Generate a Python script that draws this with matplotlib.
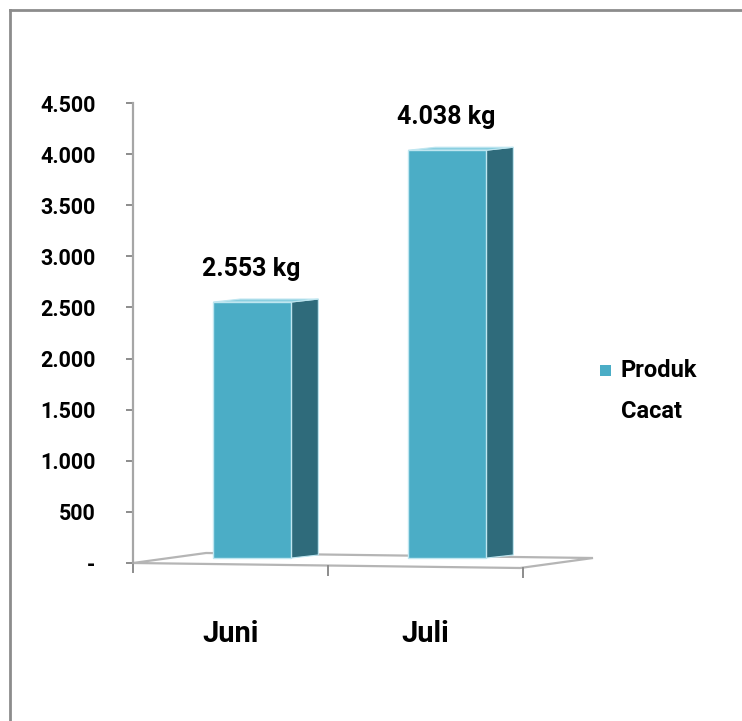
import matplotlib
matplotlib.use("Agg")
import matplotlib.pyplot as plt
from matplotlib.patches import Polygon, Rectangle
from matplotlib.lines import Line2D
from matplotlib.ticker import FuncFormatter

# Data
categories = ["Juni", "Juli"]
defects_kg = [2553, 4038]
series_name = "Produk\nCacat"
y_ticks = [0, 500, 1000, 1500, 2000, 2500, 3000, 3500, 4000, 4500]

FONT = "Roboto"
front_col = "#4BADC6"
side_col = "#2F6B7B"
top_col = "#8ACFE0"
grid_col = "#A6A6A6"

W, H, DPI = 742, 721, 100
fig = plt.figure(figsize=(W / DPI, H / DPI), dpi=DPI)

# plot area: y axis at x=133 px, value 0 at y=563 px, 4500 at y=103 px
ax = fig.add_axes([133 / W, (H - 563) / H, 390 / W, 460 / H])
ax.set_xlim(-0.5, 1.5)
ax.set_ylim(0, 4500)
for s in ["top", "right", "bottom"]:
    ax.spines[s].set_visible(False)
ax.spines["left"].set_color(grid_col)
ax.spines["left"].set_linewidth(1.6)

px_x = 2.0 / 390          # data units per pixel in x
px_y = 4500 / 460         # data units per pixel in y

# floor parallelogram
floor = Polygon([(-0.5, 0), (-0.5 + 387 * px_x, -5 * px_y),
                 (-0.5 + 460 * px_x, 5 * px_y), (-0.5 + 73 * px_x, 10 * px_y)],
                closed=True, facecolor="white", edgecolor="#B5B5B5",
                linewidth=1.6, clip_on=False, zorder=1)
ax.add_patch(floor)

# x tick marks below the front edge of the floor
for k, xt in enumerate([-0.5, 0.5, 1.5]):
    y0 = -k * 2.5 * px_y
    ax.add_line(Line2D([xt, xt], [y0, y0 - 9 * px_y], color="#8C8C8C",
                       linewidth=1.4, clip_on=False, zorder=1))

# bars with a simple 3D look
offset = 0.112
bw = 0.40
dx = 27 * px_x
dy = 3 * px_y
lift = 5 * px_y
xs = [i + offset for i in range(len(categories))]
ax.bar(xs, [v - lift for v in defects_kg], width=bw, bottom=lift,
       color=front_col, edgecolor="#BFE6F0", linewidth=1.0, zorder=3)
for x, v in zip(xs, defects_kg):
    xl, xr = x - bw / 2, x + bw / 2
    side = Polygon([(xr, lift), (xr + dx, lift + dy), (xr + dx, v + dy), (xr, v)],
                   closed=True, facecolor=side_col, edgecolor="#BFE6F0",
                   linewidth=0.8, zorder=2)
    top = Polygon([(xl, v), (xl + dx, v + dy), (xr + dx, v + dy), (xr, v)],
                  closed=True, facecolor=top_col, edgecolor="#BFE6F0",
                  linewidth=0.8, zorder=2)
    ax.add_patch(side)
    ax.add_patch(top)
    label = f"{v:,}".replace(",", ".") + " kg"
    ax.annotate(label, (x, v), xytext=(-1, 33), textcoords="offset pixels",
                ha="center", va="center", fontsize=18, fontweight="bold",
                family=FONT, color="black")

# category labels
for i, c in enumerate(categories):
    ax.text(i, -71 * px_y, c, ha="center", va="center", fontsize=21,
            fontweight="bold", family=FONT, color="black")
ax.set_xticks([])

# y axis ticks
ax.set_yticks(y_ticks)
ax.yaxis.set_major_formatter(FuncFormatter(
    lambda v, p: "-" if v == 0 else f"{int(v):,}".replace(",", ".")))
ax.tick_params(axis="y", direction="out", length=5, width=1.4,
               color="#8C8C8C", pad=22, labelsize=15.5)
for t in ax.get_yticklabels():
    t.set_fontweight("bold")
    t.set_family(FONT)

# legend
fig.patches.append(Rectangle((600 / W, 1 - 376 / H), 11 / W, 11 / H,
                             transform=fig.transFigure, facecolor=front_col,
                             edgecolor="none"))
fig.text(621 / W, 1 - 391 / H, series_name, ha="left", va="center",
         fontsize=17, fontweight="bold", family=FONT, linespacing=1.95)

# outer frame (open to the right and bottom)
fig.add_artist(Line2D([9.5 / W, 9.5 / W], [0, 1 - 9.5 / H], color="#8C8C8C",
                      linewidth=2, transform=fig.transFigure))
fig.add_artist(Line2D([9.5 / W, 1], [1 - 9.5 / H, 1 - 9.5 / H], color="#8C8C8C",
                      linewidth=2, transform=fig.transFigure))

fig.savefig("out.png", dpi=DPI)
